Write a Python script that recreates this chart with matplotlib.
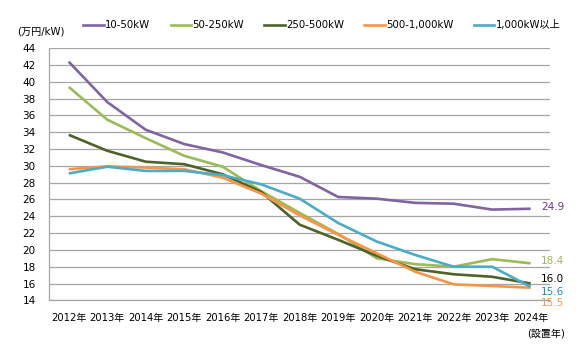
import matplotlib
matplotlib.use("Agg")
import matplotlib.pyplot as plt
from matplotlib.lines import Line2D

plt.rcParams['font.family'] = ['DejaVu Sans', 'Noto Sans CJK JP']

years = ["2012年", "2013年", "2014年", "2015年", "2016年", "2017年", "2018年",
         "2019年", "2020年", "2021年", "2022年", "2023年", "2024年"]
series_names = ["10-50kW", "50-250kW", "250-500kW", "500-1,000kW", "1,000kW以上"]
s_10_50 = [42.4, 37.6, 34.3, 32.6, 31.6, 30.1, 28.7, 26.3, 26.1, 25.6, 25.5, 24.8, 24.9]
s_50_250 = [39.4, 35.5, 33.3, 31.2, 29.9, 27.0, 24.4, 21.9, 19.0, 18.3, 18.0, 18.9, 18.4]
s_250_500 = [33.7, 31.8, 30.5, 30.2, 29.0, 26.9, 23.0, 21.2, 19.3, 17.7, 17.1, 16.8, 16.0]
s_500_1000 = [29.6, 29.95, 29.8, 29.6, 28.6, 26.7, 24.1, 21.8, 19.6, 17.4, 15.9, 15.7, 15.5]
s_1000_up = [29.1, 29.9, 29.4, 29.4, 28.9, 27.8, 26.1, 23.2, 21.0, 19.4, 18.0, 18.0, 15.6]
end_labels = ["24.9", "18.4", "16.0", "15.6", "15.5"]
yticks = list(range(14, 45, 2))

colors = ["#8064a2", "#9bbb59", "#4f6228", "#f79646", "#4bacc6"]
label_colors = ["#7030a0", "#9bbb59", "#000000", "#1f8ac8", "#f79646"]
label_y = [25.05, 18.65, 16.5, 15.0, 13.65]

fig = plt.figure(figsize=(5.85, 3.59), dpi=100)
ax = fig.add_axes([0.0846, 0.1635, 0.8554, 0.702])

data = [s_10_50, s_50_250, s_250_500, s_500_1000, s_1000_up]
x = list(range(len(years)))
handles = []
for vals, c, name in zip(data, colors, series_names):
    ax.plot(x, vals, color=c, lw=1.9, solid_capstyle='butt', zorder=3)
    handles.append(Line2D([0], [0], color=c, lw=1.9))

ax.set_xlim(-0.5, len(years) - 0.5)
ax.set_ylim(14, 44)
ax.set_yticks(yticks)
ax.set_xticks(x)
ax.set_xticklabels(years, fontsize=7.2)
ax.tick_params(axis='y', labelsize=7.5, length=0, pad=10)
ax.tick_params(axis='x', length=0, pad=9)
ax.grid(axis='y', color='#a6a6a6', lw=0.9, zorder=1)
for sp in ['top', 'right']:
    ax.spines[sp].set_visible(False)
ax.spines['left'].set_color('#a6a6a6')
ax.spines['bottom'].set_color('#a6a6a6')
ax.spines['left'].set_linewidth(0.9)
ax.spines['bottom'].set_linewidth(0.9)

for lab, c, yv in zip(end_labels, label_colors, label_y):
    ax.text(12.27, yv, lab, color=c, fontsize=7.5,
            va='center', ha='left', clip_on=False)

fig.text(0.03, 0.912, "(万円/kW)", fontsize=7.3, ha='left', va='center')
fig.text(0.966, 0.072, "(設置年)", fontsize=7.2, ha='right', va='center')

fig.legend(handles, series_names, loc='center', bbox_to_anchor=(0.5504, 0.930),
           ncol=5, frameon=False, fontsize=7.3, handlelength=2.0,
           handletextpad=0.15, columnspacing=2.0)

fig.savefig("out.png", dpi=100)
